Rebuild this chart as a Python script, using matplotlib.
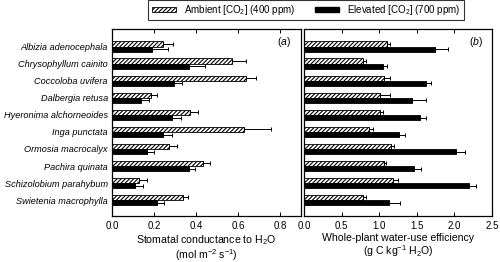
import matplotlib.pyplot as plt
import numpy as np
from matplotlib.patches import Patch

plt.rcParams["font.family"] = ["Liberation Sans", "DejaVu Sans"]
plt.rcParams["mathtext.fontset"] = "custom"
plt.rcParams["mathtext.rm"] = "Liberation Sans"
plt.rcParams["mathtext.it"] = "Liberation Sans:italic"
plt.rcParams["hatch.linewidth"] = 0.8

# Data
species = [
    "Albizia adenocephala",
    "Chrysophyllum cainito",
    "Coccoloba uvifera",
    "Dalbergia retusa",
    "Hyeronima alchorneoides",
    "Inga punctata",
    "Ormosia macrocalyx",
    "Pachira quinata",
    "Schizolobium parahybum",
    "Swietenia macrophylla",
]

gs_ambient = [0.244, 0.573, 0.637, 0.184, 0.370, 0.629, 0.273, 0.435, 0.130, 0.337]
gs_ambient_se = [0.045, 0.064, 0.049, 0.029, 0.040, 0.127, 0.035, 0.033, 0.035, 0.023]
gs_elevated = [0.190, 0.368, 0.294, 0.137, 0.284, 0.244, 0.167, 0.365, 0.111, 0.213]
gs_elevated_se = [0.078, 0.073, 0.039, 0.039, 0.045, 0.040, 0.033, 0.030, 0.035, 0.033]

wue_ambient = [1.11, 0.79, 1.07, 1.01, 1.01, 0.87, 1.16, 1.07, 1.19, 0.78]
wue_ambient_se = [0.04, 0.04, 0.08, 0.13, 0.04, 0.05, 0.04, 0.02, 0.06, 0.04]
wue_elevated = [1.74, 1.05, 1.62, 1.43, 1.54, 1.26, 2.02, 1.46, 2.20, 1.13]
wue_elevated_se = [0.18, 0.06, 0.07, 0.19, 0.08, 0.08, 0.12, 0.10, 0.09, 0.14]

y = np.arange(len(species))
h = 0.31

fig = plt.figure(figsize=(5, 2.62), dpi=100)
ax_a = fig.add_axes([0.224, 0.175, 0.378, 0.715])
ax_b = fig.add_axes([0.608, 0.175, 0.376, 0.715])


def draw(ax, amb, amb_se, elev, elev_se):
    ax.barh(y - h / 2, amb, height=h, color="white", edgecolor="black",
            hatch="////////", linewidth=0.6,
            xerr=[np.zeros(len(amb)), amb_se],
            error_kw=dict(ecolor="black", elinewidth=0.7, capsize=1.5, capthick=0.7))
    ax.barh(y + h / 2, elev, height=h, color="black", edgecolor="black",
            linewidth=0.6,
            xerr=[np.zeros(len(elev)), elev_se],
            error_kw=dict(ecolor="black", elinewidth=0.7, capsize=1.5, capthick=0.7))
    ax.set_ylim(9.94, -1.05)
    ax.tick_params(axis="x", direction="in", top=True, labelsize=7, length=3,
                   width=0.7, pad=3.5)
    ax.tick_params(axis="y", length=0)
    for s in ax.spines.values():
        s.set_linewidth(0.9)


draw(ax_a, gs_ambient, gs_ambient_se, gs_elevated, gs_elevated_se)
ax_a.set_xlim(0, 0.9)
ax_a.set_xticks([0.0, 0.2, 0.4, 0.6, 0.8])
ax_a.set_xticklabels(["0.0", "0.2", "0.4", "0.6", "0.8"])
ax_a.set_yticks(y)
ax_a.set_yticklabels(species, fontsize=6.6, style="italic")
ax_a.tick_params(axis="y", pad=3)
ax_a.set_xlabel("Stomatal conductance to H$_2$O\n(mol m$^{-2}$ s$^{-1}$)", fontsize=7.6,
                labelpad=1.5, linespacing=1.05)
ax_a.text(0.95, 0.93, r"($\it{a}$)", transform=ax_a.transAxes, ha="right",
          va="center", fontsize=7.5)

draw(ax_b, wue_ambient, wue_ambient_se, wue_elevated, wue_elevated_se)
ax_b.set_xlim(0, 2.5)
ax_b.set_xticks([0.0, 0.5, 1.0, 1.5, 2.0, 2.5])
ax_b.set_xticklabels(["0.0", "0.5", "1.0", "1.5", "2.0", "2.5"])
ax_b.set_yticks([])
ax_b.set_xlabel("Whole-plant water-use efficiency\n(g C kg$^{-1}$ H$_2$O)", fontsize=7.6,
                labelpad=1.5, linespacing=1.05)
ax_b.text(0.95, 0.93, r"($\it{b}$)", transform=ax_b.transAxes, ha="right",
          va="center", fontsize=7.5)

handles = [
    Patch(facecolor="white", edgecolor="black", hatch="////////", linewidth=0.6),
    Patch(facecolor="black", edgecolor="black"),
]
leg = fig.legend(handles, ["Ambient [CO$_2$] (400 ppm)", "Elevated [CO$_2$] (700 ppm)"],
                 loc="center", bbox_to_anchor=(0.612, 0.962), ncol=2, fontsize=7,
                 frameon=True, fancybox=False, edgecolor="black", handlelength=2.5,
                 handleheight=0.35, handletextpad=0.8, columnspacing=2.0,
                 borderpad=0.35)
leg.get_frame().set_linewidth(0.8)

fig.savefig("out.png", dpi=100)
